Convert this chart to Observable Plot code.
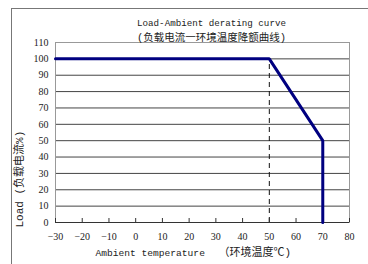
<!DOCTYPE html>
<html><head><meta charset="utf-8">
<script src="https://cdn.jsdelivr.net/npm/d3@7"></script>
<script src="https://cdn.jsdelivr.net/npm/@observablehq/plot@0.6"></script>
<style>
html,body{margin:0;padding:0;background:#fff;overflow:hidden;width:368px;height:264px}
#wrap{position:relative;width:368px;height:264px}
#border{position:absolute;left:11px;top:8px;width:400px;height:300px;border:1px solid #777;pointer-events:none}
</style></head>
<body><div id="wrap"><div id="border"></div></div>
<script>
const temps = [-30, 50, 70, 70];
const loads = [100, 100, 50, 0];
const xTicks = [-30, -20, -10, 0, 10, 20, 30, 40, 50, 60, 70, 80];
const yTicks = [0, 10, 20, 30, 40, 50, 60, 70, 80, 90, 100, 110];
const gridLines = [10, 20, 30, 40, 50, 60, 70, 80, 90, 100];
const dashX = [50];
const titleLines = ["Load-Ambient derating curve", "(负载电流一环境温度降额曲线)"];
const xLabelParts = ["Ambient temperature", "（环境温度℃)"];
const yLabel = "Load (负载电流%)";

const data = temps.map((t, i) => ({t, load: loads[i]}));
const mono = "'Liberation Mono', 'Noto Sans CJK SC', monospace";

const chart = Plot.plot({
  width: 368, height: 264,
  marginLeft: 55, marginRight: 19, marginTop: 42, marginBottom: 42,
  style: {fontFamily: "'Liberation Serif', serif", fontSize: "10px", color: "#222", background: "transparent"},
  x: {domain: [-30, 80]},
  y: {domain: [0, 110]},
  marks: [
    Plot.ruleY(gridLines, {stroke: "#444", strokeWidth: 1}),
    Plot.frame({stroke: "#999"}),
    Plot.ruleY([0], {stroke: "#333"}),
    Plot.ruleX(dashX, {y1: 0, y2: 100, stroke: "#111", strokeDasharray: "5,4"}),
    Plot.axisX({ticks: xTicks, tickSize: -4, tickPadding: 14, stroke: "#333", label: null, fontSize: 10, fill: "#222"}),
    Plot.axisY({ticks: yTicks, tickSize: 0, tickPadding: 7, label: null, fontSize: 10, fill: "#222"}),
    Plot.line(data, {x: "t", y: "load", stroke: "#000080", strokeWidth: 3, strokeLinejoin: "miter"}),
    Plot.text([titleLines[0]], {frameAnchor: "top", dx: 9, dy: -23, fontFamily: mono, fontSize: 9.2, fill: "#222"}),
    Plot.text([titleLines[1]], {frameAnchor: "top", dx: 9, dy: -9, fontFamily: mono, fontSize: 10.5, fill: "#222"}),
    Plot.text([xLabelParts[0]], {frameAnchor: "bottom-left", textAnchor: "start", dx: 40, dy: 33, fontFamily: mono, fontSize: 9.6, fill: "#222"}),
    Plot.text([xLabelParts[1]], {frameAnchor: "bottom-left", textAnchor: "start", dx: 163, dy: 33, fontFamily: mono, fontSize: 11, fill: "#222"}),
    Plot.text([yLabel], {frameAnchor: "bottom-left", textAnchor: "start", rotate: -90, dx: -33, dy: 5, fontFamily: mono, fontSize: 11, fill: "#222"})
  ]
});
chart.style.position = "absolute";
chart.style.left = "0";
chart.style.top = "0";
document.getElementById("wrap").prepend(chart);
</script>
</body></html>
